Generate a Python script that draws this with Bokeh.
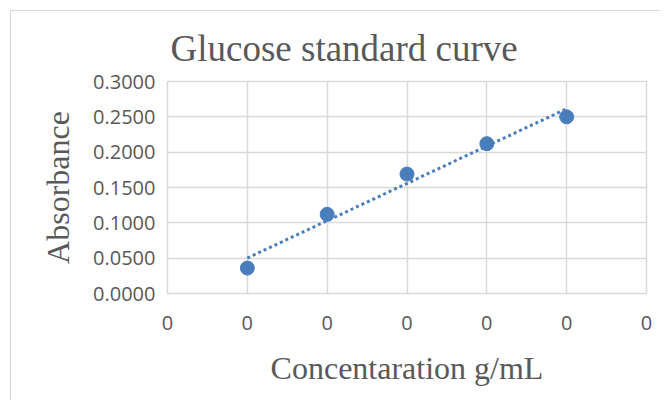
import numpy as np
from bokeh.plotting import figure
from bokeh.models import FixedTicker, NumeralTickFormatter, ColumnDataSource
from bokeh.embed import file_html
from bokeh.resources import INLINE

# Data (concentration in g/mL, shown with Excel number format "0")
concentration = [0.0002, 0.0004, 0.0006, 0.0008, 0.0010]
absorbance = [0.036, 0.112, 0.169, 0.212, 0.250]
x_ticks = [0.0, 0.0002, 0.0004, 0.0006, 0.0008, 0.0010, 0.0012]
x_tick_labels = ["0", "0", "0", "0", "0", "0", "0"]
y_ticks = [0.0, 0.05, 0.10, 0.15, 0.20, 0.25, 0.30]

title_text = "Glucose standard curve"
x_label = "Concentaration g/mL"
y_label = "Absorbance"

OX, OY = 11, 11  # chart border offset on the page
W, H = 650, 390
p = figure(width=W, height=H, output_backend="svg", toolbar_location=None,
           x_range=(0.0, 0.0012), y_range=(0.0, 0.3),
           min_border_left=167 - OX, min_border_right=W - (646 - OX),
           min_border_top=81 - OY, min_border_bottom=H - (293 - OY))
p.styles = {"margin-left": "10px", "margin-top": "10px",
            "border-left": "1px solid #d9d9d9", "border-top": "1px solid #d9d9d9"}
p.outline_line_color = "#d9d9d9"
p.outline_line_width = 1.5
p.background_fill_color = "white"

# trendline (linear fit of the data)
slope, intercept = np.polyfit(concentration, absorbance, 1)
tx = [concentration[0], concentration[-1]]
ty = [slope * v + intercept for v in tx]
p.line(tx, ty, line_color="#4a7ebb", line_width=3, line_dash="3 3")

src = ColumnDataSource(dict(x=concentration, y=absorbance))
p.scatter("x", "y", source=src, size=14, fill_color="#4a7ebb", line_color="#4a7ebb")

# axes
p.xaxis.ticker = FixedTicker(ticks=x_ticks)
p.xaxis.major_label_overrides = {t: l for t, l in zip(x_ticks, x_tick_labels)}
p.yaxis.ticker = FixedTicker(ticks=y_ticks)
p.yaxis.formatter = NumeralTickFormatter(format="0.0000")

for ax in (p.xaxis[0], p.yaxis[0]):
    ax.axis_line_color = None
    ax.major_tick_line_color = None
    ax.minor_tick_line_color = None
    ax.major_label_text_font = "Open Sans"
    ax.major_label_text_font_size = "20px"
    ax.major_label_text_color = "#595959"
    ax.axis_label_text_font = "Liberation Serif"
    ax.axis_label_text_font_size = "32px"
    ax.axis_label_text_font_style = "normal"
    ax.axis_label_text_color = "#595959"

p.xaxis.axis_label = x_label
p.yaxis.axis_label = y_label
p.xaxis.major_label_standoff = 16
p.yaxis.major_label_standoff = 6
p.xaxis.axis_label_standoff = 17
p.yaxis.axis_label_standoff = 14

p.xgrid.grid_line_color = "#d9d9d9"
p.ygrid.grid_line_color = "#d9d9d9"
p.xgrid.grid_line_width = 1.5
p.ygrid.grid_line_width = 1.5

p.title.text = title_text
p.title.text_font = "Liberation Serif"
p.title.text_font_size = "37px"
p.title.text_font_style = "normal"
p.title.text_color = "#595959"
p.title.align = "left"
p.title.offset = 3
p.title.standoff = 25

open("out.html", "w").write(file_html(p, INLINE))
